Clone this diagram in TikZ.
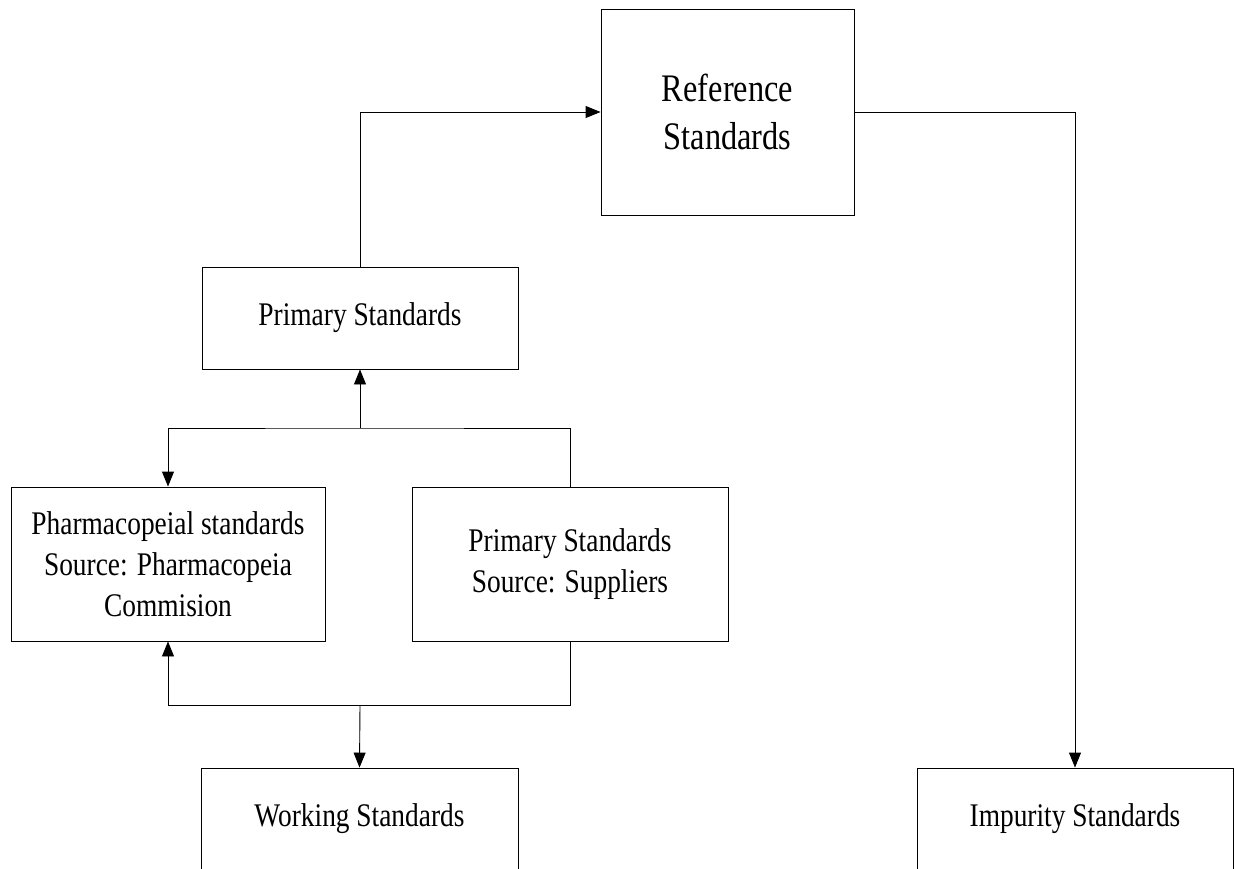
\documentclass[tikz,border=0pt]{standalone}
\usepackage{fontspec}
\newfontfamily\boxfont[FakeStretch=0.83]{Liberation Serif}
\usetikzlibrary{arrows.meta}
\begin{document}
\begin{tikzpicture}[x=1pt,y=-1pt,
  box/.style={draw=black,line width=0.9pt,rectangle,inner sep=0pt,align=center,
    font={\boxfont\fontsize{33}{41}\selectfont}},
  refbox/.style={box,font={\boxfont\fontsize{39}{48}\selectfont}},
  arr/.style={line width=0.9pt,-{Triangle[length=15pt,width=12pt]}},
  ln/.style={line width=0.9pt}]
\useasboundingbox (0,0) rectangle (1234,868);
\begin{scope}
\clip (0,0) rectangle (1234,868);
\node[refbox,minimum width=253pt,minimum height=206pt] (ref) at (727.5,112) {Reference\\Standards};
\node[box,minimum width=316pt,minimum height=102pt] (prim) at (360,318) {Primary Standards};
\node[box,minimum width=314pt,minimum height=154pt] (pharm) at (168,564) {Pharmacopeial standards\\Source: Pharmacopeia\\Commision};
\node[box,minimum width=316pt,minimum height=154pt] (supp) at (570,564) {Primary Standards\\Source: Suppliers};
\node[box,minimum width=317pt,minimum height=102pt] (work) at (359.5,819) {Working Standards};
\node[box,minimum width=316pt,minimum height=102pt] (imp) at (1075,819) {Impurity Standards};
\coordinate (j1) at (360,428);
\coordinate (j2) at (360,705);
\draw[arr] (prim.north) |- (ref.west);
\draw[arr] (ref.east) -| (imp.north);
\draw[arr] (supp.north) |- (j1) -| (pharm.north);
\draw[arr] (j1) -- (prim.south);
\draw[arr] (supp.south) |- (j2) -| (pharm.south);
\draw[arr] (j2) -- (work.north);
\end{scope}
\end{tikzpicture}
\end{document}
